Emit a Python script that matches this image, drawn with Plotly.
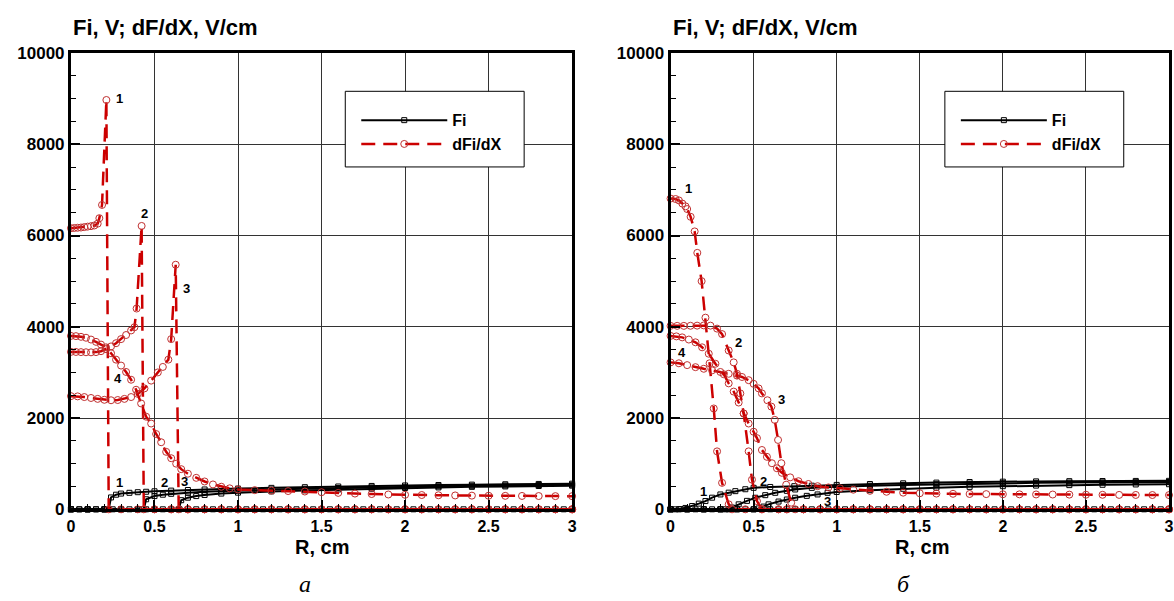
import plotly.graph_objects as go

# ---------------- data ----------------
# zero-level tail used by curves that fall to 0
TAIL_R = [0.7, 0.8, 0.9, 1.0, 1.1, 1.2, 1.3, 1.4, 1.5, 1.6, 1.7, 1.8, 1.9, 2.0,
          2.1, 2.2, 2.3, 2.4, 2.5, 2.6, 2.7, 2.8, 2.9, 3.0]
TAIL_Z = [0, 0, 0, 0, 0, 0, 0, 0, 0, 0, 0, 0, 0, 0, 0, 0, 0, 0, 0, 0, 0, 0, 0, 0]
# curve 4 potential: zero over the whole range
ALL_R = [0.0, 0.05, 0.1, 0.15, 0.2, 0.25, 0.3, 0.35, 0.4, 0.45, 0.5, 0.55, 0.6, 0.65, 0.7, 0.75,
         0.8, 0.85, 0.9, 0.95, 1.0, 1.05, 1.1, 1.15, 1.2, 1.25, 1.3, 1.35, 1.4, 1.45, 1.5,
         1.55, 1.6, 1.65, 1.7, 1.75, 1.8, 1.85, 1.9, 1.95, 2.0, 2.05, 2.1, 2.15, 2.2, 2.25,
         2.3, 2.35, 2.4, 2.45, 2.5, 2.55, 2.6, 2.65, 2.7, 2.75, 2.8, 2.85, 2.9, 2.95, 3.0]
ALL_Z = [0, 0, 0, 0, 0, 0, 0, 0, 0, 0, 0, 0, 0, 0, 0, 0,
         0, 0, 0, 0, 0, 0, 0, 0, 0, 0, 0, 0, 0, 0, 0,
         0, 0, 0, 0, 0, 0, 0, 0, 0, 0, 0, 0, 0, 0, 0,
         0, 0, 0, 0, 0, 0, 0, 0, 0, 0, 0, 0, 0, 0, 0]

# ---- panel a : dFi/dX ----
A_DFI1_R = [0.0, 0.02, 0.04, 0.06, 0.08, 0.10, 0.12, 0.14, 0.16, 0.17, 0.186, 0.212, 0.226, 0.3, 0.4, 0.5, 0.6]
A_DFI1_V = [6160, 6165, 6170, 6175, 6185, 6195, 6205, 6220, 6260, 6380, 6670, 8970, 0, 0, 0, 0, 0]
A_DFI2_R = [0.0, 0.03, 0.06, 0.09, 0.12, 0.15, 0.18, 0.21, 0.24, 0.27, 0.30, 0.33, 0.36, 0.38, 0.393, 0.423, 0.436, 0.5, 0.6]
A_DFI2_V = [3450, 3448, 3445, 3442, 3440, 3445, 3465, 3510, 3570, 3640, 3730, 3820, 3920, 3990, 4400, 6210, 0, 0, 0]
A_DFI3_R = [0.0, 0.04, 0.08, 0.12, 0.16, 0.20, 0.24, 0.28, 0.32, 0.36, 0.40, 0.44, 0.48, 0.52, 0.55, 0.583, 0.60, 0.627, 0.645]
A_DFI3_V = [2480, 2475, 2460, 2440, 2420, 2400, 2390, 2395, 2420, 2460, 2530, 2650, 2820, 3000, 3120, 3280, 3730, 5360, 0]
A_DFI4_R = [0.0, 0.03, 0.06, 0.09, 0.12, 0.15, 0.18, 0.21, 0.24, 0.27, 0.30, 0.33, 0.36, 0.39, 0.42,
            0.45, 0.48, 0.51, 0.54, 0.57, 0.60, 0.63, 0.66, 0.70, 0.75, 0.80, 0.85, 0.90, 0.95, 1.0,
            1.1, 1.2, 1.3, 1.4, 1.5, 1.6, 1.7, 1.8, 1.9, 2.0, 2.1, 2.2, 2.3, 2.4, 2.5, 2.6, 2.7, 2.8, 2.9, 3.0]
A_DFI4_V = [3800, 3795, 3780, 3760, 3720, 3670, 3610, 3550, 3420, 3280, 3150, 3010, 2840, 2620, 2320,
            2030, 1880, 1650, 1470, 1260, 1120, 1000, 880, 780, 690, 610, 545, 495, 460, 435,
            420, 410, 400, 390, 375, 360, 345, 335, 325, 318, 313, 308, 304, 300, 297, 295, 293, 291, 289, 288]

# ---- panel a : Fi ----
A_FI1_R = [0.0, 0.05, 0.10, 0.15, 0.20, 0.226, 0.24, 0.27, 0.30, 0.35, 0.40, 0.45, 0.50, 0.60, 0.70, 0.80,
           0.90, 1.0, 1.2, 1.4, 1.6, 1.8, 2.0, 2.2, 2.4, 2.6, 2.8, 3.0]
A_FI1_V = [0, 0, 0, 0, 0, 0, 260, 320, 345, 362, 375, 385, 395, 410, 423, 435,
           445, 455, 470, 485, 500, 512, 523, 533, 541, 549, 556, 562]
A_FI2_R = [0.0, 0.1, 0.2, 0.3, 0.4, 0.436, 0.45, 0.50, 0.55, 0.60, 0.70, 0.80, 0.90, 1.0, 1.2, 1.4,
           1.6, 1.8, 2.0, 2.2, 2.4, 2.6, 2.8, 3.0]
A_FI2_V = [0, 0, 0, 0, 0, 0, 220, 290, 320, 340, 365, 385, 400, 412, 432, 450,
           466, 480, 493, 505, 515, 524, 532, 538]
A_FI3_R = [0.0, 0.1, 0.2, 0.3, 0.4, 0.5, 0.6, 0.645, 0.66, 0.70, 0.75, 0.80, 0.90, 1.0, 1.2, 1.4,
           1.6, 1.8, 2.0, 2.2, 2.4, 2.6, 2.8, 3.0]
A_FI3_V = [0, 0, 0, 0, 0, 0, 0, 0, 200, 255, 290, 315, 345, 365, 393, 415,
           435, 452, 467, 480, 492, 502, 511, 518]

# ---- panel b : dFi/dX ----
B_DFI1_R = [0.0, 0.03, 0.05, 0.071, 0.09, 0.10, 0.121, 0.145, 0.161, 0.187,
            0.21, 0.235, 0.26, 0.28, 0.31, 0.35, 0.37, 0.45, 0.55, 0.65]
B_DFI1_V = [6810, 6800, 6770, 6700, 6640, 6580, 6410, 6090, 5620, 5000,
            4200, 3200, 2210, 1270, 580, 110, 0, 0, 0, 0]
B_DFI2_R = [0.0, 0.04, 0.08, 0.12, 0.16, 0.20, 0.24, 0.28, 0.31, 0.35,
            0.38, 0.40, 0.42, 0.44, 0.47, 0.49, 0.52, 0.55, 0.65]
B_DFI2_V = [4020, 4020, 4020, 4022, 4025, 4030, 4025, 3960, 3840, 3480,
            3220, 2970, 2540, 2100, 1270, 650, 180, 0, 0]
B_DFI3_R = [0.0, 0.05, 0.10, 0.15, 0.20, 0.25, 0.30, 0.35, 0.40, 0.43, 0.47,
            0.50, 0.53, 0.55, 0.583, 0.607, 0.627, 0.647, 0.667, 0.696, 0.726, 0.75]
B_DFI3_V = [3220, 3200, 3160, 3115, 3080, 3045, 3010, 2970, 2930, 2900, 2830,
            2750, 2650, 2540, 2390, 2250, 1960, 1520, 1010, 540, 145, 0]
B_DFI4_R = [0.0, 0.035, 0.07, 0.11, 0.15, 0.19, 0.23, 0.27, 0.32, 0.35,
            0.38, 0.41, 0.44, 0.47, 0.50, 0.52, 0.55, 0.58, 0.61, 0.64,
            0.67, 0.72, 0.77, 0.83, 0.885, 0.95, 1.02, 1.1, 1.2, 1.3,
            1.4, 1.5, 1.6, 1.7, 1.8, 1.9, 2.0, 2.1, 2.2, 2.3, 2.4, 2.5, 2.6, 2.7, 2.8, 2.9, 3.0]
B_DFI4_V = [3800, 3790, 3768, 3720, 3660, 3550, 3410, 3190, 2960, 2760,
            2580, 2340, 2100, 1880, 1700, 1560, 1300, 1150, 1010, 900,
            800, 700, 616, 555, 507, 480, 460, 430, 405, 385,
            365, 352, 345, 340, 336, 333, 330, 328, 326, 324, 322, 320, 318, 316, 315, 313, 312]

# ---- panel b : Fi ----
B_FI1_R = [0.0, 0.03, 0.06, 0.09, 0.13, 0.17, 0.21, 0.25, 0.30, 0.35,
           0.39, 0.45, 0.50, 0.60, 0.745, 0.85, 1.0, 1.2, 1.4, 1.6,
           1.8, 2.0, 2.2, 2.4, 2.6, 2.8, 3.0]
B_FI1_V = [0, 0, 5, 30, 72, 125, 181, 255, 326, 365,
           398, 440, 471, 490, 507, 518, 535, 555, 570, 585,
           598, 606, 612, 617, 620, 622, 624]
B_FI2_R = [0.0, 0.1, 0.2, 0.3, 0.33, 0.37, 0.41, 0.46, 0.51, 0.57,
           0.63, 0.70, 0.75, 0.85, 1.0, 1.2, 1.4, 1.6, 1.8, 2.0,
           2.2, 2.4, 2.6, 2.8, 3.0]
B_FI2_V = [0, 0, 0, 0, 0, 40, 109, 185, 254, 310,
           362, 405, 435, 470, 495, 518, 535, 550, 562, 572,
           580, 586, 591, 595, 598]
B_FI3_R = [0.0, 0.1, 0.2, 0.3, 0.4, 0.5, 0.53, 0.56, 0.59, 0.65,
           0.70, 0.75, 0.82, 0.885, 0.945, 1.0, 1.2, 1.4, 1.6, 1.8,
           2.0, 2.2, 2.4, 2.6, 2.8, 3.0]
B_FI3_V = [0, 0, 0, 0, 0, 0, 20, 60, 109, 170,
           215, 254, 295, 326, 362, 380, 420, 450, 473, 492,
           507, 520, 530, 538, 545, 550]

X_TICKS = [0, 0.5, 1, 1.5, 2, 2.5, 3]
Y_TICKS = [0, 2000, 4000, 6000, 8000, 10000]

# ---------------- styling ----------------
W, H = 1174, 601
RED = "#CC0000"
FONT = "Liberation Sans"
# calibration between requested layout pixels and the photographed picture
SX, BX = 0.993, 2.5
SY, BY = 0.973, 7.3


def px(t):
    return min(1.0, max(0.0, ((t - BX) / SX) / W))


def py(t):
    return min(1.0, max(0.0, 1 - ((t - BY) / SY) / H))


def fi_trace(r, v, xa, ya, show, leg):
    return go.Scatter(x=r, y=v, xaxis=xa, yaxis=ya, mode="lines+markers",
                      line=dict(color="black", width=2),
                      marker=dict(symbol="square-open", size=5, color="black",
                                  line=dict(width=1, color="black")),
                      name="Fi", showlegend=show, legend=leg, cliponaxis=False)


def dfi_trace(r, v, xa, ya, show, leg):
    return go.Scatter(x=r, y=v, xaxis=xa, yaxis=ya, mode="lines+markers",
                      line=dict(color=RED, width=2.5, dash="14px,8px"),
                      marker=dict(symbol="circle-open", size=7, color="#C03030",
                                  line=dict(width=1, color="#C03030")),
                      name="dFi/dX", showlegend=show, legend=leg, cliponaxis=False)


fig = go.Figure()

# panel a
fig.add_trace(fi_trace(ALL_R, ALL_Z, "x", "y", False, "legend"))
fig.add_trace(fi_trace(A_FI1_R, A_FI1_V, "x", "y", True, "legend"))
fig.add_trace(fi_trace(A_FI2_R, A_FI2_V, "x", "y", False, "legend"))
fig.add_trace(fi_trace(A_FI3_R, A_FI3_V, "x", "y", False, "legend"))
fig.add_trace(dfi_trace(A_DFI1_R + TAIL_R, A_DFI1_V + TAIL_Z, "x", "y", True, "legend"))
fig.add_trace(dfi_trace(A_DFI2_R + TAIL_R, A_DFI2_V + TAIL_Z, "x", "y", False, "legend"))
fig.add_trace(dfi_trace(A_DFI3_R + TAIL_R, A_DFI3_V + TAIL_Z, "x", "y", False, "legend"))
fig.add_trace(dfi_trace(A_DFI4_R, A_DFI4_V, "x", "y", False, "legend"))

# panel b
fig.add_trace(fi_trace(ALL_R, ALL_Z, "x2", "y2", False, "legend2"))
fig.add_trace(fi_trace(B_FI1_R, B_FI1_V, "x2", "y2", True, "legend2"))
fig.add_trace(fi_trace(B_FI2_R, B_FI2_V, "x2", "y2", False, "legend2"))
fig.add_trace(fi_trace(B_FI3_R, B_FI3_V, "x2", "y2", False, "legend2"))
fig.add_trace(dfi_trace(B_DFI1_R + TAIL_R, B_DFI1_V + TAIL_Z, "x2", "y2", True, "legend2"))
fig.add_trace(dfi_trace(B_DFI2_R + TAIL_R, B_DFI2_V + TAIL_Z, "x2", "y2", False, "legend2"))
fig.add_trace(dfi_trace(B_DFI3_R + TAIL_R[1:], B_DFI3_V + TAIL_Z[1:], "x2", "y2", False, "legend2"))
fig.add_trace(dfi_trace(B_DFI4_R, B_DFI4_V, "x2", "y2", False, "legend2"))

TICKFONT = dict(family=FONT, size=16, color="black", weight="bold")


def xaxis(domain, anchor):
    return dict(domain=domain, anchor=anchor, range=[0, 3], tickmode="array",
                tickvals=X_TICKS, ticktext=[str(t) for t in X_TICKS],
                showline=True, linecolor="black", linewidth=3, mirror=True,
                ticks="inside", ticklen=9, tickwidth=2, tickcolor="black",
                minor=dict(dtick=0.1, tick0=0, ticks="inside", ticklen=5, tickwidth=1,
                           tickcolor="black", showgrid=False),
                showgrid=True, gridcolor="#333333", gridwidth=1, zeroline=False,
                tickfont=TICKFONT, fixedrange=True)


def yaxis(domain, anchor):
    return dict(domain=domain, anchor=anchor, range=[0, 10000], tickmode="array",
                tickvals=Y_TICKS, ticktext=[str(t) for t in Y_TICKS],
                showline=True, linecolor="black", linewidth=3, mirror=True,
                ticks="inside", ticklen=9, tickwidth=2, tickcolor="black",
                minor=dict(dtick=500, tick0=0, ticks="inside", ticklen=5, tickwidth=1,
                           tickcolor="black", showgrid=False),
                showgrid=True, gridcolor="#333333", gridwidth=1, zeroline=False,
                tickfont=dict(family=FONT, size=17, color="black", weight="bold"),
                fixedrange=True)


YDOM = [py(510), py(51.5)]
LEFT = (69.5, 571.0)
RIGHT = (669.5, 1172.5)

LEGEND_STYLE = dict(xanchor="left", yanchor="top", bgcolor="rgba(0,0,0,0)", borderwidth=0,
                    font=dict(family=FONT, size=16, color="black", weight="bold"),
                    itemwidth=86, tracegroupgap=0)

fig.update_layout(
    width=W, height=H, margin=dict(l=0, r=0, t=0, b=0),
    paper_bgcolor="white", plot_bgcolor="white",
    xaxis=xaxis([px(LEFT[0]), px(LEFT[1])], "y"),
    yaxis=yaxis(YDOM, "x"),
    xaxis2=xaxis([px(RIGHT[0]), px(RIGHT[1])], "y2"),
    yaxis2=yaxis(YDOM, "x2"),
    legend=dict(x=px(355), y=py(102), **LEGEND_STYLE),
    legend2=dict(x=px(955), y=py(102), **LEGEND_STYLE),
    showlegend=True,
)

# legend boxes
for x0 in (344, 944):
    fig.add_shape(type="rect", xref="paper", yref="paper",
                  x0=px(x0), x1=px(x0 + 179), y0=py(166), y1=py(90),
                  fillcolor="white", line=dict(color="black", width=1), layer="above")

ann = []
for xl, xr_, xc, cap in ((LEFT[0], LEFT[1], 304, "а"), (RIGHT[0], RIGHT[1], 903, "б")):
    ann.append(dict(text="<b>Fi, V; dF/dX, V/cm</b>", xref="paper", yref="paper",
                    x=px(xl + 0.5), y=py(25.5), xanchor="left", yanchor="middle", showarrow=False,
                    font=dict(family=FONT, size=22, color="black")))
    ann.append(dict(text="<b>R, cm</b>", xref="paper", yref="paper",
                    x=px((xl + xr_) / 2), y=py(548), xanchor="center", yanchor="middle",
                    showarrow=False, font=dict(family=FONT, size=20, color="black")))
    ann.append(dict(text="<i>" + cap + "</i>", xref="paper", yref="paper",
                    x=px(xc), y=py(585), xanchor="center", yanchor="middle", showarrow=False,
                    font=dict(family="Liberation Serif", size=24, color="black")))

LABELS_A = [("1", 0.29, 9000), ("2", 0.44, 6480), ("3", 0.69, 4850), ("4", 0.28, 2870),
            ("1", 0.29, 590), ("2", 0.56, 590), ("3", 0.68, 610)]
LABELS_B = [("1", 0.107, 7040), ("2", 0.41, 3650), ("3", 0.667, 2410), ("4", 0.071, 3435),
            ("1", 0.2, 390), ("2", 0.56, 610), ("3", 0.946, 175)]
for labels, xr, yr in ((LABELS_A, "x", "y"), (LABELS_B, "x2", "y2")):
    for t, xv, yv in labels:
        ann.append(dict(text="<b>" + t + "</b>", xref=xr, yref=yr, x=xv, y=yv,
                        showarrow=False, xanchor="center", yanchor="middle",
                        font=dict(family=FONT, size=13, color="black")))

fig.update_layout(annotations=ann)

fig.write_html("out.html")
